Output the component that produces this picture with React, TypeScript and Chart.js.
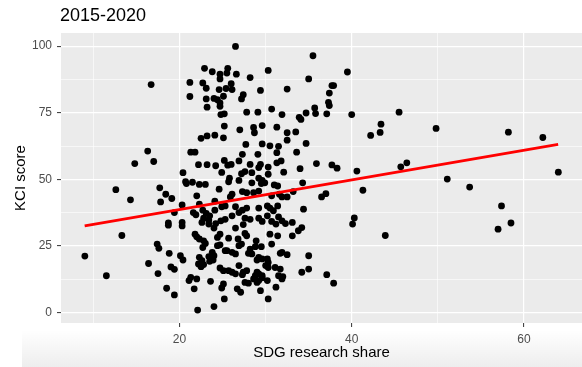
import React, { useEffect, useRef } from 'react';
import { Chart, registerables } from 'chart.js';

Chart.register(...registerables);

const titleText = '2015-2020';
const xTitle = 'SDG research share';
const yTitle = 'KCI score';

const sdgShare = [
  16.7, 16.3, 17.0, 14.8, 12.6, 14.3, 17.7, 18.4, 19.1, 17.8, 19.4, 18.7, 18.7, 13.3, 17.4, 17.6, 18.8, 9.0, 16.4, 19.0, 19.4, 11.5, 17.5, 18.5, 19.4,
  22.9, 23.8, 24.7, 25.6, 24.7, 21.2, 22.7, 23.1, 24.6, 25.4, 21.2, 23.1, 24.0, 24.4, 25.1, 24.7, 23.2, 24.7, 24.8, 25.2, 25.2,
  26.5, 25.5, 26.6, 30.3, 28.2, 26.0, 26.1, 29.4, 27.4, 27.2, 30.7, 27.8, 29.1, 31.9, 29.6, 28.6, 28.7, 31.3, 27.0,
  22.5, 23.2, 24.1, 25.1, 21.3, 21.8, 22.2, 23.2, 24.2, 25.2, 25.6, 20.4, 24.9, 20.7, 20.8, 21.5, 22.3, 23.0, 24.6, 25.7, 22.0, 20.3, 22.3, 24.1, 24.9, 25.3, 21.6, 21.9, 22.7, 23.1, 24.1, 23.5, 22.8, 23.4, 24.8, 25.3,
  27.7, 29.6, 30.5, 31.5, 27.3, 29.1, 31.3, 26.0, 26.9, 28.2, 29.2, 29.4, 31.3, 31.8, 30.3, 27.2, 27.6, 28.4, 25.8, 26.9, 28.4, 29.2, 29.6, 29.5, 29.9, 30.3, 31.0, 31.4, 26.1, 25.9, 27.3, 27.8, 28.6, 29.2, 30.7, 31.6, 31.9, 26.5, 27.3, 26.9, 27.8, 29.2, 30.2, 30.5, 31.4, 30.9, 27.6, 28.2, 29.2, 30.2, 31.5, 26.1, 29.6, 30.7,
  27.4, 31.2, 26.5, 30.5, 31.4, 25.7, 26.8, 27.2, 26.9, 27.6, 27.8, 28.9, 29.5, 28.8, 30.7, 25.5, 26.1, 26.5, 28.0, 28.4, 28.2, 29.2, 29.6, 29.0, 30.2, 30.3, 30.0, 30.3, 31.7, 26.9, 31.1, 31.7, 25.7, 26.1, 26.5, 27.4, 27.8, 27.3, 29.0, 29.2, 28.8, 29.6, 28.6, 29.0, 29.2, 29.6, 30.2, 31.5, 31.9, 27.6, 28.0, 26.7, 27.1, 31.2, 29.4, 30.3,
  20.3, 20.3, 22.6, 23.4, 24.2, 24.0, 21.8, 22.0, 22.3, 22.8, 23.0, 24.7, 24.4, 24.7, 24.4, 22.7, 23.8, 24.0, 23.4, 25.3, 20.1, 20.4, 22.3, 22.6, 22.8, 22.5, 22.2, 23.5, 23.9, 24.7, 25.1, 21.3, 21.1, 22.0, 23.6, 25.1, 24.9, 21.7, 25.2, 22.1, 24.0,
  35.5, 35.0, 32.5, 37.7, 37.9, 37.4, 37.3, 37.4, 33.9, 34.1, 34.7, 35.7, 35.8, 37.1, 32.5, 32.5, 33.5, 34.7, 33.6, 32.1, 34.0, 35.9, 37.7, 38.3,
  34.3, 33.2, 32.5, 36.5, 37.0, 34.4, 31.9, 32.3, 33.1, 33.8, 34.2, 33.1, 31.9, 32.5, 35.0, 32.0, 35.0, 34.2, 37.1, 37.9,
  39.5, 40.0, 45.5, 43.4, 43.3, 42.2, 49.8, 58.2, 62.2, 40.6, 45.7, 46.4, 64.0, 51.1, 53.7, 41.3, 57.4, 40.3, 40.1, 57.0, 58.5, 43.9,
];

const kciScore = [
  85.6, 60.6, 56.7, 55.9, 46.1, 42.3, 46.8, 44.4, 42.8, 41.5, 37.5, 33.6, 32.8, 28.9, 25.7, 24.1, 22.2, 21.2, 18.4, 17.1, 16.2, 13.8, 14.6, 9.1, 6.6,
  91.7, 90.4, 89.5, 91.7, 87.7, 86.4, 86.2, 84.2, 83.7, 84.1, 81.1, 80.2, 80.4, 79.9, 81.2, 78.7, 77.1, 77.4, 74.3, 74.6, 70.0,
  99.9, 89.9, 89.5, 90.9, 88.2, 85.9, 83.7, 83.4, 81.8, 80.2, 76.4, 75.2, 75.2, 74.3, 70.2, 69.5, 67.5, 69.6, 68.6,
  65.4, 66.3, 66.6, 65.6, 60.2, 60.2, 55.5, 55.5, 55.1, 57.1, 55.3, 52.5, 52.6, 49.1, 48.4, 48.9, 48.1, 48.1, 46.3, 49.1, 43.8, 40.4, 40.7, 41.8, 39.7, 40.0, 37.5, 36.7, 38.4, 37.2, 38.4, 36.3, 35.4, 34.7, 34.4, 35.0,
  63.1, 63.3, 62.6, 62.4, 59.4, 59.4, 60.0, 55.6, 56.9, 55.6, 54.4, 55.6, 56.2, 56.9, 54.6, 52.1, 52.9, 52.5, 50.4, 49.6, 48.7, 50.4, 49.6, 48.4, 48.7, 51.9, 47.9, 47.5, 44.4, 43.4, 45.4, 45.0, 45.0, 45.6, 43.8, 44.4, 43.4, 39.7, 38.4, 37.5, 39.2, 39.2, 40.0, 39.2, 40.0, 38.2, 35.4, 35.0, 35.4, 36.3, 35.9, 36.3, 34.2, 34.2,
  33.0, 33.2, 31.7, 29.4, 28.8, 27.9, 27.6, 25.7, 25.1, 29.7, 28.8, 26.9, 24.7, 24.7, 25.7, 23.2, 22.6, 22.0, 22.2, 22.0, 23.8, 20.7, 20.1, 19.7, 20.1, 18.8, 17.6, 16.9, 22.2, 17.6, 16.9, 16.3, 15.7, 15.1, 14.5, 15.1, 15.7, 14.2, 15.1, 14.5, 13.8, 13.8, 12.6, 11.3, 12.0, 13.0, 12.0, 13.8, 12.6, 11.3, 11.0, 8.9, 7.6, 9.5, 8.2, 5.1,
  33.8, 32.5, 33.8, 33.2, 33.4, 31.7, 29.4, 28.4, 27.6, 26.9, 25.9, 29.4, 28.2, 25.4, 25.1, 24.4, 22.6, 21.3, 21.0, 23.2, 21.3, 19.7, 20.7, 19.5, 18.0, 17.2, 18.2, 19.2, 19.7, 16.7, 15.7, 13.2, 12.0, 12.6, 11.7, 10.7, 9.2, 8.9, 5.1, 0.9, 2.2,
  96.4, 87.7, 83.9, 85.2, 85.2, 82.4, 78.9, 77.7, 73.3, 72.5, 74.9, 76.8, 74.7, 74.6, 67.5, 64.7, 67.8, 63.5, 60.2, 52.7, 54.0, 55.9, 55.4, 54.2,
  48.7, 45.4, 43.4, 43.4, 44.6, 38.8, 34.4, 33.4, 33.8, 30.7, 31.9, 28.8, 22.6, 21.7, 21.3, 13.5, 16.3, 15.1, 14.2, 11.0,
  90.3, 74.3, 75.2, 70.7, 67.6, 66.5, 69.1, 67.7, 65.7, 53.1, 54.7, 56.2, 52.7, 50.1, 47.1, 45.9, 40.0, 35.5, 33.2, 31.3, 33.6, 28.9,
];

const fitX = [8.98, 63.98];
const fitY = [32.5, 63.1];

const xTicks = [10, 20, 30, 40, 50, 60];
const xLabelTicks = [20, 40, 60];
const yTicks = [0, 12.5, 25, 37.5, 50, 62.5, 75, 87.5, 100];
const yLabelTicks = [0, 25, 50, 75, 100];
const xLimits = [6.23, 66.75];
const yLimits = [-3.95, 104.95];

const FONT = '"Liberation Sans", Arial, Helvetica, sans-serif';

const bgPlugin = {
  id: 'ggbg',
  beforeDraw(chart: any) {
    const { ctx, chartArea, width, height } = chart;
    ctx.save();
    ctx.fillStyle = '#ffffff';
    ctx.fillRect(0, 0, width, height);
    const g = ctx.createLinearGradient(0, 330, 0, height);
    g.addColorStop(0, 'rgba(0,0,0,0)');
    g.addColorStop(1, 'rgba(0,0,0,0.07)');
    ctx.fillStyle = g;
    ctx.fillRect(22, 330, width - 22, height - 330);
    ctx.fillStyle = '#EBEBEB';
    ctx.fillRect(chartArea.left, chartArea.top, chartArea.right - chartArea.left, chartArea.bottom - chartArea.top);
    ctx.restore();
  },
  afterDraw(chart: any) {
    const { ctx } = chart;
    ctx.save();
    ctx.font = `18px ${FONT}`;
    ctx.fillStyle = '#000000';
    ctx.textAlign = 'left';
    ctx.textBaseline = 'alphabetic';
    ctx.fillText(titleText, 60, 20.5);
    ctx.restore();
  },
};

export default function App() {
  const ref = useRef<HTMLCanvasElement | null>(null);

  useEffect(() => {
    if (!ref.current) return;
    const points = sdgShare.map((x, i) => ({ x, y: kciScore[i] }));
    const fit = fitX.map((x, i) => ({ x, y: fitY[i] }));
    const isMajorX = (v: number) => xLabelTicks.includes(v);
    const isMajorY = (v: number) => yLabelTicks.includes(v);

    const chart = new Chart(ref.current, {
      type: 'scatter',
      data: {
        datasets: [
          {
            type: 'line',
            data: fit,
            borderColor: '#ff0000',
            borderWidth: 2.8,
            pointRadius: 0,
            fill: false,
          } as any,
          {
            data: points,
            pointRadius: 3.4,
            pointBackgroundColor: '#000000',
            pointBorderWidth: 0,
            backgroundColor: '#000000',
          },
        ],
      },
      plugins: [bgPlugin],
      options: {
        animation: false,
        responsive: false,
        devicePixelRatio: 1,
        layout: { autoPadding: false, padding: { top: 33, left: 0, right: 0, bottom: 0 } },
        plugins: {
          legend: { display: false },
          tooltip: { enabled: false },
          title: { display: false },
        },
        scales: {
          x: {
            type: 'linear',
            min: xLimits[0],
            max: xLimits[1],
            afterBuildTicks: (scale: any) => {
              scale.ticks = xTicks.map((v) => ({ value: v }));
            },
            afterFit: (scale: any) => {
              scale.height = 44;
            },
            ticks: {
              autoSkip: false,
              maxRotation: 0,
              padding: 5,
              color: '#4D4D4D',
              font: { family: FONT, size: 12 },
              callback: (v: any) => (isMajorX(Number(v)) ? String(v) : ''),
            },
            grid: {
              color: '#ffffff',
              lineWidth: (c: any) => (c.tick && isMajorX(c.tick.value) ? 1.2 : 0.6),
              tickColor: (c: any) => (c.tick && isMajorX(c.tick.value) ? '#333333' : 'rgba(0,0,0,0)'),
              tickLength: 4,
              tickWidth: 1,
              drawTicks: true,
            },
            border: { display: false },
            title: {
              display: true,
              text: xTitle,
              color: '#000000',
              font: { family: FONT, size: 15 },
              padding: { top: 0, bottom: 5 },
            },
          },
          y: {
            type: 'linear',
            min: yLimits[0],
            max: yLimits[1],
            afterBuildTicks: (scale: any) => {
              scale.ticks = yTicks.map((v) => ({ value: v }));
            },
            afterFit: (scale: any) => {
              scale.width = 61;
            },
            ticks: {
              autoSkip: false,
              padding: 5,
              color: '#4D4D4D',
              font: { family: FONT, size: 12 },
              callback: (v: any) => (isMajorY(Number(v)) ? String(v) : ''),
            },
            grid: {
              color: '#ffffff',
              lineWidth: (c: any) => (c.tick && isMajorY(c.tick.value) ? 1.2 : 0.6),
              tickColor: (c: any) => (c.tick && isMajorY(c.tick.value) ? '#333333' : 'rgba(0,0,0,0)'),
              tickLength: 4,
              tickWidth: 1,
              drawTicks: true,
            },
            border: { display: false },
            title: {
              display: true,
              text: yTitle,
              color: '#000000',
              font: { family: FONT, size: 15 },
              padding: { top: 12, bottom: 0 },
            },
          },
        },
      } as any,
    });
    return () => chart.destroy();
  }, []);

  return (
    <div style={{ position: 'absolute', left: 0, top: 0, width: 582, height: 367 }}>
      <canvas ref={ref} width={582} height={367} style={{ width: 582, height: 367, display: 'block' }} />
    </div>
  );
}
